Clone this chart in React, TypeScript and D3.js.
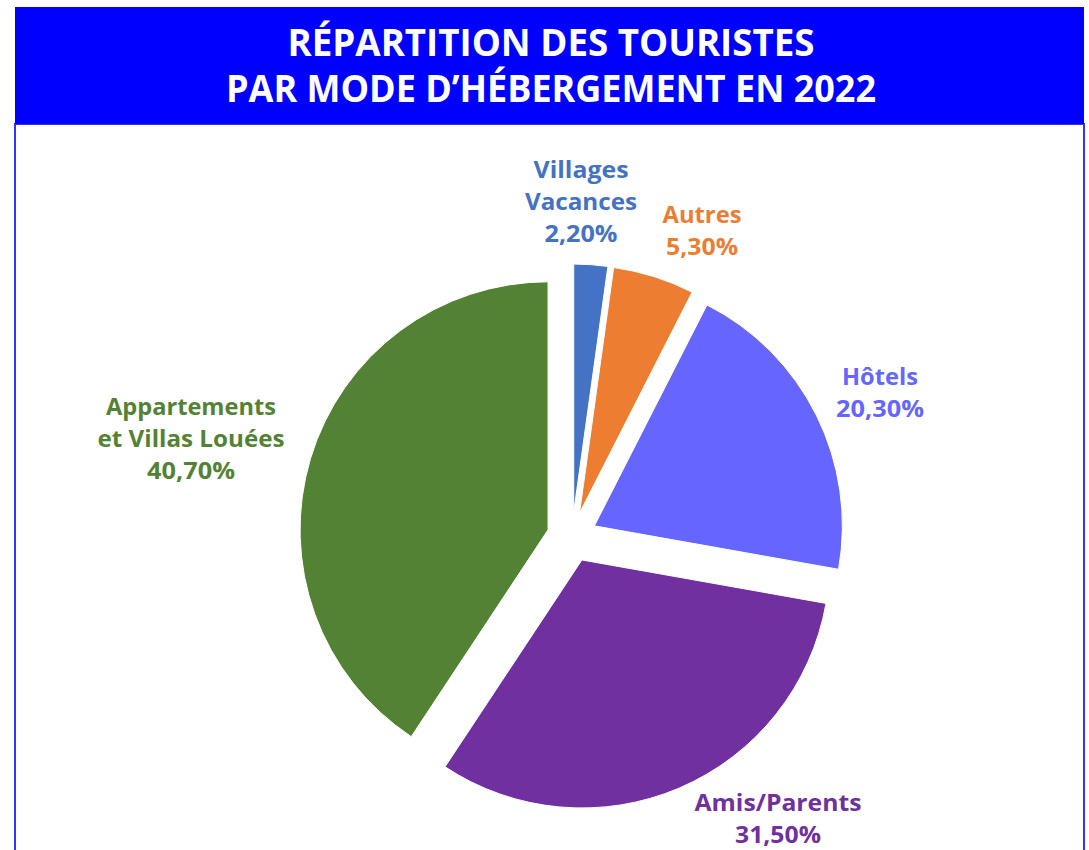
import React from "react";
import * as d3 from "d3";

const categories = ["Villages Vacances", "Autres", "Hôtels", "Amis/Parents", "Appartements et Villas Louées"];
const values = [2.2, 5.3, 20.3, 31.5, 40.7];
const colors = ["#4472C4", "#ED7D31", "#6666FF", "#7030A0", "#548235"];
const labelLines = [
  ["Villages", "Vacances", "2,20%"],
  ["Autres", "5,30%"],
  ["Hôtels", "20,30%"],
  ["Amis/Parents", "31,50%"],
  ["Appartements", "et Villas Louées", "40,70%"],
];
const titleLines = ["RÉPARTITION DES TOURISTES", "PAR MODE D’HÉBERGEMENT EN 2022"];

// label placement (center x, first baseline y) and widths of each line
const labelPos: [number, number][] = [
  [581, 178],
  [702, 223],
  [880, 385],
  [778, 811],
  [191, 415],
];
const labelWidths = [
  [95, 112, 73],
  [79, 72],
  [76, 88],
  [167, 86],
  [170, 187, 88],
];

export default function App() {
  const W = 1089;
  const H = 850;
  const cx = 572;
  const cy = 537;
  const R = 248;
  const explode = 25;

  const pie = d3.pie<number>().sort(null).startAngle(0).endAngle(2 * Math.PI);
  const arcs = pie(values);
  const arcGen = d3.arc<d3.PieArcDatum<number>>().innerRadius(0).outerRadius(R);

  const fontFamily = "'Open Sans', 'Noto Sans', sans-serif";

  return (
    <svg width={W} height={H} style={{ position: "absolute", left: 0, top: 0, background: "#fff" }}>
      <rect x={15} y={124} width={1069} height={760} fill="#fff" stroke="#3333ff" strokeWidth={2} />
      <rect x={15} y={7} width={1069} height={117} fill="#0000FF" />
      {titleLines.map((t, i) => (
        <text
          key={t}
          x={551}
          y={56 + i * 46}
          textAnchor="middle"
          fill="#fff"
          fontFamily={fontFamily}
          fontWeight={700}
          fontSize={37}
          textLength={i === 0 ? 527 : 650}
          lengthAdjust="spacingAndGlyphs"
        >
          {t}
        </text>
      ))}
      <g>
        {arcs.map((a, i) => {
          const mid = (a.startAngle + a.endAngle) / 2;
          const dx = Math.sin(mid) * explode;
          const dy = -Math.cos(mid) * explode;
          return (
            <path
              key={categories[i]}
              d={arcGen(a) || ""}
              transform={`translate(${cx + dx},${cy + dy})`}
              fill={colors[i]}
              stroke="#fff"
              strokeWidth={1}
            />
          );
        })}
      </g>
      {labelLines.map((lines, i) => (
        <g key={categories[i]}>
          {lines.map((l, j) => (
            <text
              key={j}
              x={labelPos[i][0]}
              y={labelPos[i][1] + j * 32}
              textAnchor="middle"
              fill={colors[i]}
              fontFamily={fontFamily}
              fontWeight={700}
              fontSize={23}
              textLength={labelWidths[i][j]}
              lengthAdjust="spacingAndGlyphs"
            >
              {l}
            </text>
          ))}
        </g>
      ))}
    </svg>
  );
}
